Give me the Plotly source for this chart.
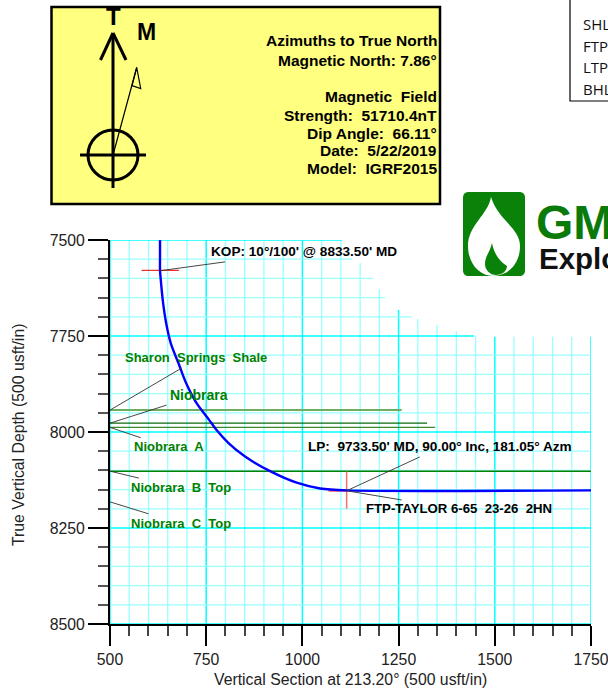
import plotly.graph_objects as go

# ---- data ----
well_vs = [630, 630, 630, 632, 637, 646, 658, 678, 698, 725, 758, 777, 808, 851, 916, 985, 1046, 1115, 1750]
well_tvd = [7500, 7552, 7578, 7604, 7656, 7717, 7769, 7821, 7873, 7925, 7969, 7995, 8029, 8064, 8102, 8132, 8147, 8152, 8152]

formation_tvd = [7943, 7977, 7988, 8102]
formation_end = [1258, 1324, 1345, 1750]
formation_color = ["#6fae5f", "#0b6b0b", "#3a8a2a", "#008000"]
formation_width = [2, 1.3, 1.3, 1.5]

grid_h_tvd = list(range(7500, 8501, 50))
grid_h_end = [1103, 1129, 1184, 1215, 1285, 1446] + [1750] * 15
grid_v_vs = list(range(500, 1751, 50))
grid_v_top = [7500] * 13 + [7560, 7628, 7682, 7706, 7721, 7737, 7750] + [7752] * 6

kop_vs = [582, 679]
kop_tvd = [7579, 7579]
lp_h_vs = [1068, 1115]
lp_h_tvd = [8153, 8153]
lp_v_vs = [1115, 1115]
lp_v_tvd = [8103, 8200]

leaders = [
    ([630, 799], [7580, 7557]),
    ([500, 687], [7943, 7833]),
    ([500, 647], [7977, 7930]),
    ([500, 580], [7988, 8015]),
    ([500, 575], [8102, 8120]),
    ([500, 600], [8182, 8213]),
    ([1115, 1305], [8153, 8065]),
    ([1115, 1258], [8153, 8177]),
]

labels = [
    ("<b>KOP: 10°/100' @ 8833.50' MD</b>", 211, 251, "black", 13.6),
    ("<b>LP:  9733.50' MD, 90.00° Inc, 181.05° Azm</b>", 308, 446, "black", 13.6),
    ("<b>FTP-TAYLOR 6-65  23-26  2HN</b>", 366, 508, "black", 13.2),
    ("<b>Sharon  Springs  Shale</b>", 125, 357, "#008000", 13),
    ("<b>Niobrara</b>", 170, 395, "#008000", 14),
    ("<b>Niobrara  A</b>", 134, 446, "#008000", 13),
    ("<b>Niobrara  B  Top</b>", 131, 487, "#008000", 13),
    ("<b>Niobrara  C  Top</b>", 131, 523, "#008000", 13),
]

box_lines = [
    ("Azimuths to True North", 41), ("Magnetic North: 7.86°", 60),
    ("Magnetic  Field", 96), ("Strength:  51710.4nT", 115),
    ("Dip Angle:  66.11°", 133), ("Date:  5/22/2019", 150),
    ("Model:  IGRF2015", 168),
]
table_rows = [("SHL", 24), ("FTP", 46), ("LTP", 67), ("BHL", 89)]

# ---- frame geometry ----
L, R, T, B = 110, 591, 240, 624
W, H = 608, 691
px = lambda x: (x - L) / (R - L)
py = lambda y: (B - y) / (B - T)


def shape_line(x0, y0, x1, y1, color="black", width=3):
    return dict(type="line", xref="paper", yref="paper", x0=px(x0), x1=px(x1), y0=py(y0), y1=py(y1),
                line=dict(color=color, width=width))


def svg(cmds):
    out = []
    for c in cmds:
        out.append(c[0] + " ".join(f"{px(c[i])},{py(c[i + 1])}" for i in range(1, len(c), 2)))
    return " ".join(out) + " Z"


fig = go.Figure()

# grid
for v, top in zip(grid_v_vs, grid_v_top):
    major = v % 250 == 0
    fig.add_trace(go.Scatter(x=[v, v], y=[8500, top], mode="lines", hoverinfo="skip", showlegend=False,
                             line=dict(color="#00ffff" if major else "#99ffff", width=1.5 if major else 1.3)))
for t, end in zip(grid_h_tvd, grid_h_end):
    major = t % 250 == 0
    fig.add_trace(go.Scatter(x=[500, end], y=[t, t], mode="lines", hoverinfo="skip", showlegend=False,
                             line=dict(color="#00ffff" if major else "#99ffff", width=1.5 if major else 1.3)))

# formations
for t, e, c, w in zip(formation_tvd, formation_end, formation_color, formation_width):
    fig.add_trace(go.Scatter(x=[500, e], y=[t, t], mode="lines", showlegend=False, line=dict(color=c, width=w)))

# markers of KOP / LP
fig.add_trace(go.Scatter(x=kop_vs, y=kop_tvd, mode="lines", showlegend=False, line=dict(color="#f03030", width=1.3)))
fig.add_trace(go.Scatter(x=lp_h_vs, y=lp_h_tvd, mode="lines", showlegend=False, line=dict(color="#f06060", width=2)))
fig.add_trace(go.Scatter(x=lp_v_vs, y=lp_v_tvd, mode="lines", showlegend=False, line=dict(color="#f87070", width=1.5)))

# well path
fig.add_trace(go.Scatter(x=well_vs, y=well_tvd, mode="lines", showlegend=False,
                         line=dict(color="#0000ff", width=2.4, shape="spline", smoothing=0.8)))

# leader lines
for xs, ys in leaders:
    fig.add_trace(go.Scatter(x=xs, y=ys, mode="lines", showlegend=False, line=dict(color="#333333", width=0.9)))

shapes = []
# yellow box
shapes.append(dict(type="rect", xref="paper", yref="paper", x0=px(51.5), x1=px(440), y0=py(7), y1=py(204),
                   fillcolor="#ffff80", line=dict(color="black", width=2.5)))
# compass
shapes += [
    shape_line(113, 33, 113, 188),
    shape_line(113, 33, 100.5, 60),
    shape_line(113, 33, 126, 60),
    shape_line(80, 155, 146, 155),
    dict(type="circle", xref="paper", yref="paper", x0=px(88), x1=px(138), y0=py(130), y1=py(180),
         line=dict(color="black", width=3)),
    shape_line(113, 155, 136.7, 67.5, width=1.2),
    dict(type="path", xref="paper", yref="paper", path=svg([("M", 136.7, 67.5), ("L", 140.7, 88.5), ("L", 132, 85.5)]),
         fillcolor="rgba(0,0,0,0)", line=dict(color="black", width=1.2)),
]
# table box
shapes.append(dict(type="rect", xref="paper", yref="paper", x0=px(570), x1=px(640), y0=py(-5), y1=py(101),
                   fillcolor="white", line=dict(color="black", width=1.2)))
# logo
shapes.append(dict(type="path", xref="paper", yref="paper", fillcolor="#0a820a", line=dict(width=0),
                   path=svg([("M", 469, 192), ("L", 519, 192), ("C", 523, 192, 525, 194, 525, 198),
                             ("L", 525, 270), ("C", 525, 274, 523, 276, 519, 276), ("L", 469, 276),
                             ("C", 465, 276, 463, 274, 463, 270), ("L", 463, 198), ("C", 463, 194, 465, 192, 469, 192)])))
shapes.append(dict(type="path", xref="paper", yref="paper", line=dict(width=0), fillcolor="white",
                   path=svg([("M", 491, 197), ("C", 488, 215, 468, 225, 468, 246), ("C", 468, 264, 480, 276, 493, 276),
                             ("C", 508, 276, 520, 264, 520, 246), ("C", 520, 228, 498, 220, 491, 197)])))
shapes.append(dict(type="path", xref="paper", yref="paper", line=dict(width=0), fillcolor="#0a820a",
                   path=svg([("M", 492, 243), ("C", 490, 252, 485, 256, 485, 264), ("C", 485, 270, 490, 275, 496, 275),
                             ("C", 502, 275, 507, 271, 507, 266), ("C", 500, 262, 494, 254, 492, 243)])))

annotations = []


def note(text, x, y, size, color="black", anchor="left", family="Liberation Sans", angle=0):
    annotations.append(dict(text=text, xref="paper", yref="paper", x=px(x), y=py(y), xanchor=anchor, yanchor="middle",
                            showarrow=False, align=anchor, font=dict(family=family, size=size, color=color),
                            borderpad=0, borderwidth=0, textangle=angle))


for text, y in box_lines:
    note(f"<b>{text}</b>", 437, y, 15.5, anchor="right")
note("<b>T</b>", 113, 16, 24, anchor="center")
note("<b>M</b>", 146, 32, 23, anchor="center")
for text, y in table_rows:
    note(text, 583, y, 15, color="#111111", family="Open Sans")
note("<b>GM</b>", 536, 222, 48, color="#0a7a0a")
note("<b>Explo</b>", 539, 258, 29.5, color="#111111")
for text, x, y, c, s in labels:
    note(text, x, y, s, color=c)

axis_font = dict(family="Liberation Sans", size=15.8, color="#222222")
note("Vertical Section at 213.20° (500 usft/in)", 350.5, 679, 15.8, color="#222222", anchor="center")
note("True Vertical Depth (500 usft/in)", 18, 435, 15.8, color="#222222", anchor="center", angle=-90)

fig.update_layout(
    width=W, height=H, autosize=False,
    margin=dict(l=L, r=W - R, t=T, b=H - B, pad=0),
    paper_bgcolor="white", plot_bgcolor="white", showlegend=False,
    shapes=shapes, annotations=annotations,
    font=dict(family="Liberation Sans"),
    xaxis=dict(range=[500, 1750], dtick=250, tick0=500, ticks="outside", ticklen=20, tickwidth=2, tickcolor="black",
               showgrid=False, zeroline=False, showline=True, linecolor="black", linewidth=2, automargin=False,
               ticklabeloverflow="allow",
               minor=dict(dtick=50, ticks="outside", ticklen=10, tickwidth=1.5, tickcolor="#444444", showgrid=False),
               tickfont=axis_font),
    yaxis=dict(range=[8500, 7500], dtick=250, tick0=7500, ticks="outside", ticklen=20, tickwidth=2, tickcolor="black",
               tickformat="d", automargin=False,
               showgrid=False, zeroline=False, showline=True, linecolor="black", linewidth=2,
               minor=dict(dtick=50, ticks="outside", ticklen=10, tickwidth=1.5, tickcolor="#555555", showgrid=False),
               tickfont=axis_font),
)

fig.write_html("out.html", config=dict(displayModeBar=False),
               post_script="document.body.style.margin='0';document.body.style.overflow='hidden';")
